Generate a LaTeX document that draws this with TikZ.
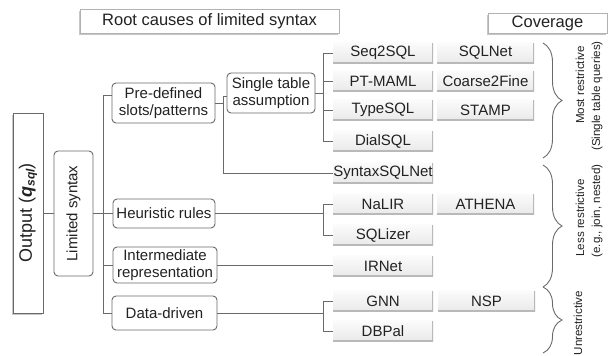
\documentclass[tikz,border=0pt]{standalone}
\usepackage{fontspec}
\setmainfont{Liberation Sans}
\usetikzlibrary{decorations.pathreplacing,shadows}
\definecolor{ln}{HTML}{6A6A6A}
\definecolor{tx}{HTML}{222222}
\begin{document}
\begin{tikzpicture}[x=1pt,y=1pt,
  every node/.style={text=tx, inner sep=0pt},
  body/.style={font=\fontsize{15}{17.5}\selectfont},
  cat/.style={body, draw=ln, line width=0.9pt, rounded corners=4pt, fill=white, align=center},
  leaf/.style={body, minimum height=21, top color=gray!3, bottom color=gray!17,
    path picture={\draw[gray!55,line width=2.6pt] (path picture bounding box.south west) -- (path picture bounding box.south east) -- (path picture bounding box.north east);}},
  c1/.style={leaf, minimum width=100},
  c2/.style={leaf, minimum width=97},
  conn/.style={draw=ln, line width=0.9pt},
  hdr/.style={draw=gray!60, line width=0.8pt, fill=white, font=\fontsize{16.5}{18}\selectfont,
    drop shadow={shadow xshift=-1.2pt, shadow yshift=-1.5pt, fill=gray!45, opacity=1}},
  brc/.style={draw=ln, line width=0.9pt, decorate, decoration={brace, amplitude=19pt}},
  bl/.style={font=\fontsize{11.6}{14}\selectfont, rotate=90}
]
\useasboundingbox (0,0) rectangle (611,-356);
% headers
\node[hdr, minimum width=259, minimum height=24] (root) at (209.5,-21) {Root causes of limited syntax};
\node[hdr, minimum width=119, minimum height=20] (cov) at (547.5,-23.5) {Coverage};
% left column
\node[draw=ln, line width=0.9pt, fill=white, rotate=90, minimum width=200, minimum height=30,
  font=\fontsize{18}{20}\selectfont,
  drop shadow={shadow xshift=-1.2pt, shadow yshift=-1.5pt, fill=gray!45, opacity=1}] (out) at (28,-213)
  {Output (\textbf{\textit{q}}\raisebox{-0.3ex}{\fontsize{12}{12}\selectfont\bfseries\itshape sql})};
\node[cat, rotate=90, minimum width=125, minimum height=39] (lim) at (73.5,-213.5) {Limited syntax};
% categories
\node[cat, minimum width=103, minimum height=40] (pre) at (163.5,-103) {Pre-defined\\slots/patterns};
\node[cat, minimum width=88, minimum height=40] (sing) at (271,-93) {Single table\\assumption};
\node[cat, minimum width=102, minimum height=29] (heu) at (164,-213.5) {Heuristic rules};
\node[cat, minimum width=104, minimum height=36] (inter) at (165,-265) {Intermediate\\representation};
\node[cat, minimum width=105, minimum height=34] (data) at (164.5,-313) {Data-driven};
% leaves
\node[c1] (seq) at (383,-53) {Seq2SQL};
\node[c2] (sqlnet) at (485.5,-53) {SQLNet};
\node[c1] (ptm) at (383,-81) {PT-MAML};
\node[c2] (c2f) at (485.5,-81) {Coarse2Fine};
\node[c1] (type) at (383,-110) {TypeSQL};
\node[c2] (stamp) at (485.5,-110) {STAMP};
\node[c1] (dial) at (383,-141) {DialSQL};
\node[c1] (syn) at (383,-173) {SyntaxSQLNet};
\node[c1] (nalir) at (383,-204) {NaLIR};
\node[c2] (athena) at (485.5,-204) {ATHENA};
\node[c1] (sqlizer) at (383,-235) {SQLizer};
\node[c1] (irnet) at (383,-266) {IRNet};
\node[c1] (gnn) at (383,-301) {GNN};
\node[c2] (nsp) at (486.5,-301) {NSP};
\node[c1] (dbpal) at (383,-331) {DBPal};
% connectors
\coordinate (tT) at (103,-95);
\coordinate (tB) at (103,-313);
\draw[conn] (out.south) -- (lim.north |- out.south);
\draw[conn] (lim.south) -- (lim.south -| tT);
\draw[conn] (tT) -- (tB);
\draw[conn] (tT) -- (pre.west |- tT);
\draw[conn] (heu.west -| tT) -- (heu.west);
\draw[conn] (inter.west -| tT) -- (inter.west);
\draw[conn] (tB) -- (data.west);
\coordinate (p1) at (223,-96);
\coordinate (p2) at (223,-173);
\draw[conn] (pre.east) -- (pre.east -| p1);
\draw[conn] (p1) -- (p2);
\draw[conn] (p1) -- (sing.west |- p1);
\draw[conn] (p2) -- (syn.west);
\coordinate (s1) at (323,-53);
\coordinate (s4) at (323,-141);
\draw[conn] (sing.east) -- (sing.east -| s1);
\draw[conn] (s1) -- (s4);
\draw[conn] (s1) -- (seq.west);
\draw[conn] (ptm.west -| s1) -- (ptm.west);
\draw[conn] (type.west -| s1) -- (type.west);
\draw[conn] (s4) -- (dial.west);
\coordinate (h1) at (323,-204);
\coordinate (h2) at (323,-235);
\draw[conn] (heu.east) -- (heu.east -| h1);
\draw[conn] (h1) -- (h2);
\draw[conn] (h1) -- (nalir.west);
\draw[conn] (h2) -- (sqlizer.west);
\draw[conn] (inter.east) -- (irnet.west |- inter.east);
\coordinate (d1) at (323,-301);
\coordinate (d2) at (323,-331);
\draw[conn] (data.east) -- (data.east -| d1);
\draw[conn] (d1) -- (d2);
\draw[conn] (d1) -- (gnn.west);
\draw[conn] (d2) -- (dbpal.west);
% braces
\coordinate (b1t) at (543,-43);
\coordinate (b1b) at (543,-158);
\coordinate (b2t) at (543,-165);
\coordinate (b2b) at (543,-287);
\coordinate (b3b) at (543,-353);
\draw[brc] (b1t) -- (b1b);
\draw[brc] (b2t) -- (b2b);
\draw[brc] (b2b) -- (b3b);
\node[bl] (m1) at (580,-85) {Most restrictive};
\node[bl] (m2) at (597,-96) {(Single table queries)};
\node[bl] (l1) at (580,-218) {Less restrictive};
\node[bl] (l2) at (597,-211) {(e.g., join, nested)};
\node[bl] (u1) at (578,-323) {Unrestrictive};
\end{tikzpicture}
\end{document}
